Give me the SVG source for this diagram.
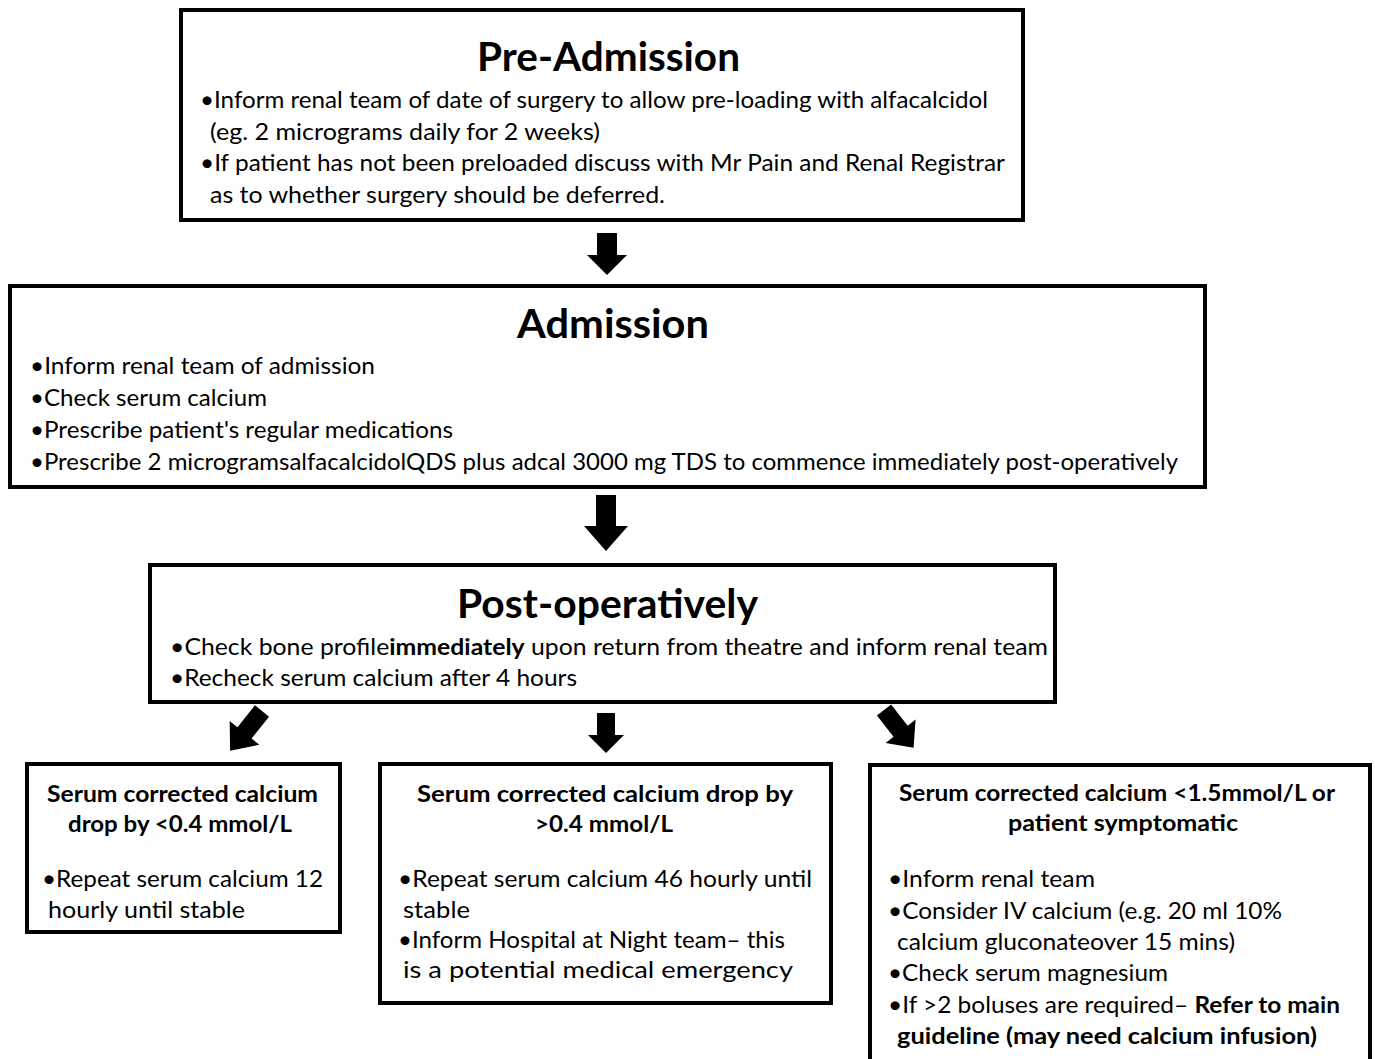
<svg xmlns="http://www.w3.org/2000/svg" width="1375" height="1059" viewBox="0 0 1375 1059">
<style>
.box{fill:#fff;stroke:#000;stroke-width:4}
text{font-family:Lato,"Liberation Sans",sans-serif;fill:#000}
.h{font-size:40px;font-weight:bold;text-anchor:middle}
.t{font-size:23.5px}
.tb{font-size:23.5px;font-weight:bold;text-anchor:middle}
.b{font-weight:bold}
.arr{fill:#000}
</style>
<rect width="1375" height="1059" fill="#fff"/>
<g id="connectors">
<path class="arr" d="M597,233 H617 V255 H627 L607,275 L587,255 H597 Z"/>
<path class="arr" d="M596,495 H616 V526 H628 L606,551 L584,526 H596 Z"/>
<path class="arr" d="M597,713 H615 V735 H624 L606,753 L588,735 H597 Z"/>
<path class="arr" transform="translate(262,711) rotate(38.7)" d="M-9,0 H9 V28 H19 L0,51 L-19,28 H-9 Z"/>
<path class="arr" transform="translate(884,710) rotate(-38)" d="M-9,0 H9 V27 H19 L0,48 L-19,27 H-9 Z"/>
</g>
<g id="pre-admission">
<rect class="box" x="181" y="10" width="842" height="210"/>
<text class="h" x="608.5" y="71" textLength="263" lengthAdjust="spacingAndGlyphs">Pre-Admission</text>
<text class="t" x="200" y="108" textLength="788" lengthAdjust="spacingAndGlyphs">•Inform renal team of date of surgery to allow pre-loading with alfacalcidol</text>
<text class="t" x="210" y="140" textLength="390" lengthAdjust="spacingAndGlyphs">(eg. 2 micrograms daily for 2 weeks)</text>
<text class="t" x="200" y="171" textLength="805" lengthAdjust="spacingAndGlyphs">•If patient has not been preloaded discuss with Mr Pain and Renal Registrar</text>
<text class="t" x="210" y="203" textLength="455" lengthAdjust="spacingAndGlyphs">as to whether surgery should be deferred.</text>
</g>
<g id="admission">
<rect class="box" x="10" y="286" width="1195" height="201"/>
<text class="h" x="613" y="338" textLength="192" lengthAdjust="spacingAndGlyphs">Admission</text>
<text class="t" x="30" y="374" textLength="345" lengthAdjust="spacingAndGlyphs">•Inform renal team of admission</text>
<text class="t" x="30" y="406" textLength="237" lengthAdjust="spacingAndGlyphs">•Check serum calcium</text>
<text class="t" x="30" y="438" textLength="423" lengthAdjust="spacingAndGlyphs">•Prescribe patient's regular medications</text>
<text class="t" x="30" y="470" textLength="1148" lengthAdjust="spacingAndGlyphs">•Prescribe 2 microgramsalfacalcidolQDS plus adcal 3000 mg TDS to commence immediately post-operatively</text>
</g>
<g id="post-operatively">
<rect class="box" x="150" y="565" width="905" height="137"/>
<text class="h" x="607.5" y="618" textLength="301" lengthAdjust="spacingAndGlyphs">Post-operatively</text>
<text class="t" x="170" y="655" textLength="878" lengthAdjust="spacingAndGlyphs">•Check bone profile<tspan class="b">immediately</tspan> upon return from theatre and inform renal team</text>
<text class="t" x="170" y="686" textLength="407" lengthAdjust="spacingAndGlyphs">•Recheck serum calcium after 4 hours</text>
</g>
<g id="drop-lt-04">
<rect class="box" x="27" y="764" width="313" height="168"/>
<text class="tb" x="182.5" y="802" textLength="271" lengthAdjust="spacingAndGlyphs">Serum corrected calcium</text>
<text class="tb" x="180" y="832" textLength="224" lengthAdjust="spacingAndGlyphs">drop by &lt;0.4 mmol/L</text>
<text class="t" x="42" y="887" textLength="281" lengthAdjust="spacingAndGlyphs">•Repeat serum calcium 12</text>
<text class="t" x="48" y="918" textLength="197" lengthAdjust="spacingAndGlyphs">hourly until stable</text>
</g>
<g id="drop-gt-04">
<rect class="box" x="380" y="764" width="451" height="239"/>
<text class="tb" x="605" y="802" textLength="376" lengthAdjust="spacingAndGlyphs">Serum corrected calcium drop by</text>
<text class="tb" x="604" y="832" textLength="138" lengthAdjust="spacingAndGlyphs">&gt;0.4 mmol/L</text>
<text class="t" x="398" y="887" textLength="414" lengthAdjust="spacingAndGlyphs">•Repeat serum calcium 46 hourly until</text>
<text class="t" x="403" y="918" textLength="67" lengthAdjust="spacingAndGlyphs">stable</text>
<text class="t" x="398" y="948" textLength="387" lengthAdjust="spacingAndGlyphs">•Inform Hospital at Night team– this</text>
<text class="t" x="403" y="978" textLength="390" lengthAdjust="spacingAndGlyphs">is a potential medical emergency</text>
</g>
<g id="lt-15">
<rect class="box" x="870" y="765" width="500" height="300"/>
<text class="tb" x="1117" y="801" textLength="436" lengthAdjust="spacingAndGlyphs">Serum corrected calcium &lt;1.5mmol/L or</text>
<text class="tb" x="1123" y="831" textLength="230" lengthAdjust="spacingAndGlyphs">patient symptomatic</text>
<text class="t" x="888" y="887" textLength="207" lengthAdjust="spacingAndGlyphs">•Inform renal team</text>
<text class="t" x="888" y="919" textLength="394" lengthAdjust="spacingAndGlyphs">•Consider IV calcium (e.g. 20 ml 10%</text>
<text class="t" x="897" y="950" textLength="338" lengthAdjust="spacingAndGlyphs">calcium gluconateover 15 mins)</text>
<text class="t" x="888" y="981" textLength="280" lengthAdjust="spacingAndGlyphs">•Check serum magnesium</text>
<text class="t" x="888" y="1013" textLength="452" lengthAdjust="spacingAndGlyphs">•If &gt;2 boluses are required– <tspan class="b">Refer to main</tspan></text>
<text class="t b" x="897" y="1044" textLength="420" lengthAdjust="spacingAndGlyphs">guideline (may need calcium infusion)</text>
</g>
</svg>
